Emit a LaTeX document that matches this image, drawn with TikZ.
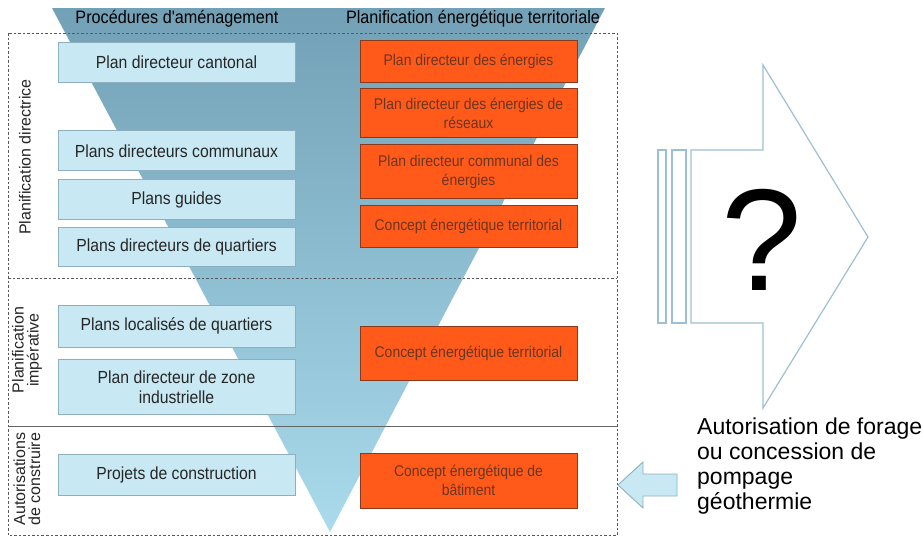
\documentclass[tikz,border=0pt]{standalone}
\usepackage{fontspec}
\setmainfont{Liberation Sans}
\newfontfamily\narrowfont[FakeStretch=0.9]{Liberation Sans}
\usetikzlibrary{positioning,calc}

\definecolor{boxblue}{HTML}{C8E9F3}
\definecolor{lineblue}{HTML}{8FAFBF}
\definecolor{boxorange}{HTML}{FF5A1A}
\definecolor{lineorange}{HTML}{8A3A1C}
\definecolor{txtorange}{HTML}{6A3620}
\definecolor{triatop}{HTML}{72A0B6}
\definecolor{triabot}{HTML}{A9DBEC}
\definecolor{arrowblue}{HTML}{9DBFD4}

\begin{document}
\begin{tikzpicture}
[x=1pt,y=-1pt,
blocbleu/.style={rectangle,draw=lineblue,fill=boxblue,line width=0.8pt,minimum width=237pt,align=center,
  text=black!85,font=\narrowfont\fontsize{17.5}{20}\selectfont},
blocorange/.style={rectangle,draw=lineorange,fill=boxorange,line width=0.8pt,minimum width=217pt,align=center,
  text=txtorange,font=\narrowfont\fontsize{15.5}{19}\selectfont},
titre/.style={text=black,font=\narrowfont\fontsize{18}{20}\selectfont},
etape/.style={rotate=90,align=center,text=black!85,font=\fontsize{16}{15}\selectfont},
cadre/.style={draw=black!65,line width=0.7pt,dash pattern=on 2.5pt off 2pt}]
\useasboundingbox (0,0) rectangle (923,536);

% entonnoir
\shade[top color=triatop,bottom color=triabot] (52,8) -- (605,8) -- (330,532) -- cycle;
\node[titre] (proc) at (177,19) {Procédures d'aménagement};
\node[titre] (plan) at (473,19) {Planification énergétique territoriale};

% cadres
\draw[cadre] (8,33) rectangle (617,535);
\draw[cadre] (8,278) -- (617,278);
\draw[draw=black!60,line width=0.8pt] (8,426) -- (617,426);

% procedures
\node[blocbleu,minimum height=40pt] (cant) at (176.5,62) {Plan directeur cantonal};
\node[blocbleu,minimum height=40pt,below=48pt of cant] (comm) {Plans directeurs communaux};
\node[blocbleu,minimum height=40pt,below=8pt of comm] (guid) {Plans guides};
\node[blocbleu,minimum height=39pt,below=7pt of guid] (quar) {Plans directeurs de quartiers};
\node[blocbleu,minimum height=42pt] (loca) at (176.5,326) {Plans localisés de quartiers};
\node[blocbleu,minimum height=55pt,below=12pt of loca] (zone) {Plan directeur de zone\\industrielle};
\node[blocbleu,minimum height=41pt] (proj) at (176.5,474.5) {Projets de construction};

% planification energetique
\node[blocorange,minimum height=42pt] (pde) at (468.5,61) {Plan directeur des énergies};
\node[blocorange,minimum height=49pt,below=6pt of pde] (pder) {Plan directeur des énergies de\\réseaux};
\node[blocorange,minimum height=54pt,below=6pt of pder] (pdce) {Plan directeur communal des\\énergies};
\node[blocorange,minimum height=42pt,below=6pt of pdce] (cet) {Concept énergétique territorial};
\node[blocorange,minimum height=54pt] (cet2) at (468.5,353) {Concept énergétique territorial};
\node[blocorange,minimum height=55pt] (ceb) at (468.5,480.5) {Concept énergétique de\\bâtiment};

% etapes
\node[etape] (dir) at (25,157) {Planification directrice};
\node[etape] (imp) at (27,350) {Planification\\impérative};
\node[etape] (aut) at (27,479) {Autorisations\\de construire};

% grande fleche
\draw[arrowblue,line width=1.2pt] (691,150) -- (763,150) -- (763,65) -- (868,237)
  -- (763,408) -- (763,323) -- (691,323) -- cycle;
\draw[arrowblue,line width=1.2pt] (658,150) rectangle (666,323);
\draw[arrowblue,line width=1.2pt] (672,150) rectangle (686,323);
\node[font=\fontsize{145}{145}\selectfont] (quest) at (762,240) {?};

% forage
\filldraw[draw=lineblue,fill=boxblue,line width=0.9pt] (618,485) -- (643,462) -- (643,474)
  -- (677,474) -- (677,496) -- (643,496) -- (643,508) -- cycle;
\node[anchor=north west,align=left,inner sep=0pt,font=\fontsize{23}{25}\selectfont] (forage) at (697,418)
  {Autorisation de forage\\ou concession de\\pompage\\géothermie};
\end{tikzpicture}
\end{document}
